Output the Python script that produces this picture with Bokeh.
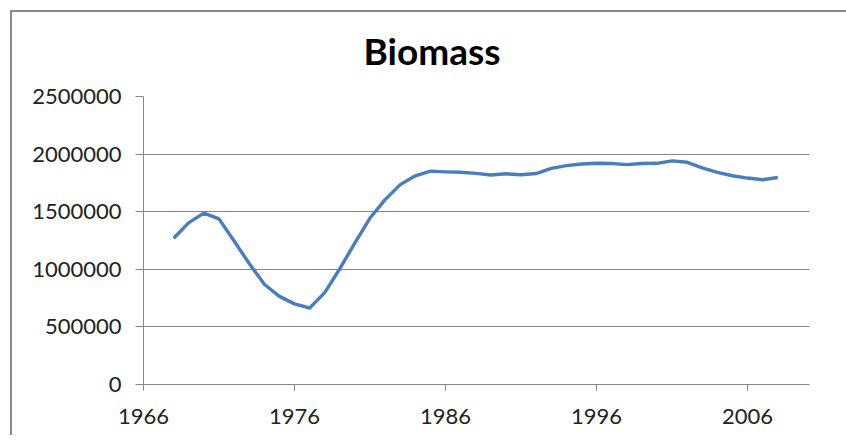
from bokeh.plotting import figure
from bokeh.models import Range1d, FixedTicker
from bokeh.embed import file_html
from bokeh.resources import INLINE

years = list(range(1968, 2009))
biomass = [1270000, 1405000, 1488000, 1438000, 1245000, 1050000, 870000, 765000,
           700000, 664000, 798000, 1005000, 1230000, 1445000, 1605000, 1735000,
           1812000, 1852000, 1846000, 1842000, 1833000, 1819000, 1829000, 1821000,
           1831000, 1876000, 1900000, 1914000, 1920000, 1919000, 1909000, 1919000,
           1920000, 1941000, 1929000, 1881000, 1842000, 1812000, 1792000, 1777000,
           1797000]
x_ticks = [1966, 1976, 1986, 1996, 2006]
y_ticks = [0, 500000, 1000000, 1500000, 2000000, 2500000]
title_text = "Biomass"

FONT = "Lato"
GRID = "#868686"

p = figure(width=846, height=435, output_backend="svg", toolbar_location=None,
           x_range=Range1d(1966, 2010.1), y_range=Range1d(0, 2500000),
           min_border_left=143, min_border_right=37, min_border_top=96,
           min_border_bottom=51, background_fill_color="white",
           border_fill_color=None)
# outer chart border (left and top edges; cropped at right/bottom as in the reference)
p.styles = {
    "background-color": "white",
    "background-image": "linear-gradient(#8a8a8a, #8a8a8a), linear-gradient(#8a8a8a, #8a8a8a)",
    "background-size": "2px 100%, 100% 2px",
    "background-position": "10px 10px, 10px 10px",
    "background-repeat": "no-repeat",
}

p.title.text = title_text
p.title.text_font = FONT
p.title.text_font_style = "bold"
p.title.text_font_size = "37px"
p.title.text_color = "#000000"
p.title.align = "left"
p.title.offset = 220
p.title.standoff = 47

p.outline_line_color = None

p.line(years, biomass, line_color="#4a7ebb", line_width=3.4, line_join="round")

p.xaxis.ticker = FixedTicker(ticks=x_ticks)
p.yaxis.ticker = FixedTicker(ticks=y_ticks)
p.yaxis.formatter.use_scientific = False
for ax in (p.xaxis, p.yaxis):
    ax.axis_line_color = GRID
    ax.major_tick_line_color = GRID
    ax.minor_tick_line_color = None
    ax.major_tick_in = 0
    ax.major_label_text_font = FONT
    ax.major_label_text_font_size = "22px"
    ax.major_label_text_color = "#222222"
p.xaxis.major_tick_out = 6
p.yaxis.major_tick_out = 8
p.xaxis.major_label_standoff = 18
p.yaxis.major_label_standoff = 14

p.xgrid.grid_line_color = None
p.ygrid.grid_line_color = GRID
p.ygrid.grid_line_width = 1

open("out.html", "w").write(file_html(p, INLINE))
